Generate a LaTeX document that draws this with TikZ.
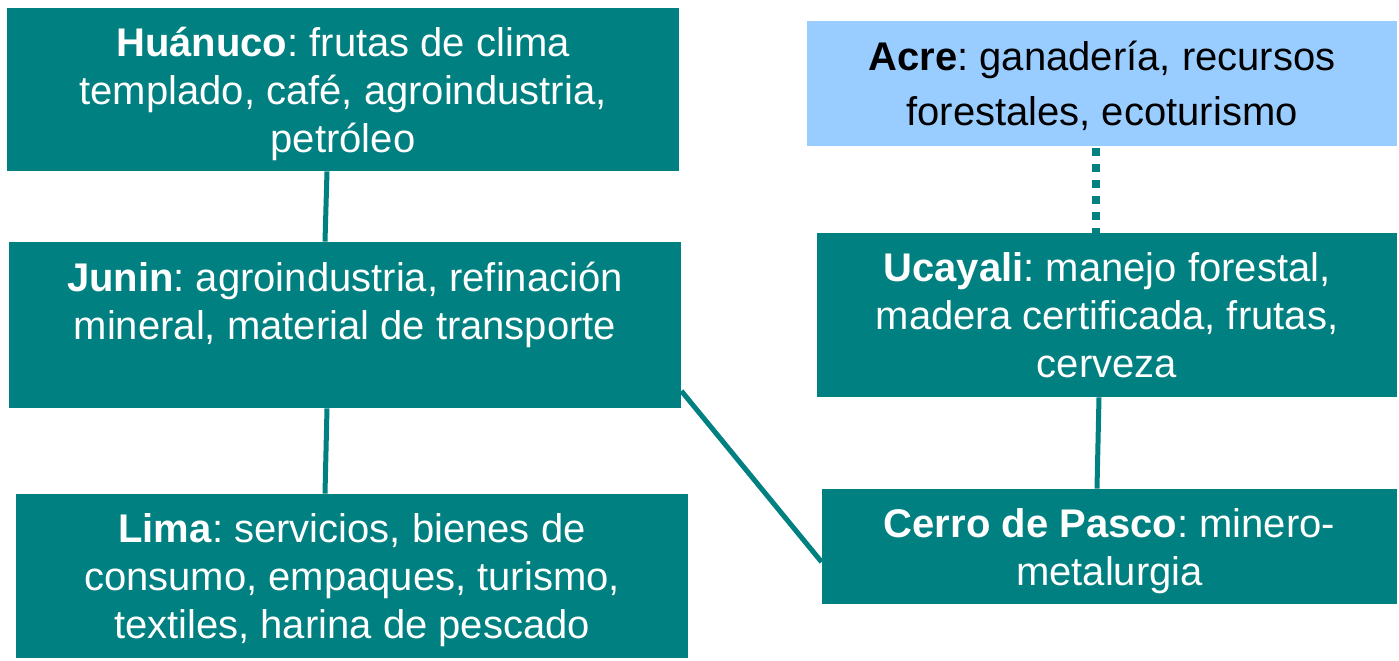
\documentclass[tikz,border=0pt]{standalone}
\usepackage{fontspec}
\setmainfont{Liberation Sans}
\frenchspacing
\definecolor{regionteal}{HTML}{008080}
\definecolor{regionblue}{HTML}{99CCFF}
\tikzset{
  region/.style={fill=regionteal, text=white, align=center, inner sep=0pt,
    font=\fontsize{20}{24}\selectfont, text depth=-0.5pt},
  border/.style={region, fill=regionblue, text=black,
    font=\fontsize{20}{27.5}\selectfont},
  link/.style={draw=regionteal, line width=2.5pt},
}
\begin{document}
\begin{tikzpicture}[x=0.5pt, y=-0.5pt]
    \useasboundingbox (0,0) rectangle (1399,660);

    \node[region, minimum width=336pt, minimum height=81.5pt] (huanuco) at (343,89.5)
        {\textbf{Huánuco}: frutas de clima\\templado, café, agroindustria,\\petróleo};
    \node[region, minimum width=336pt, minimum height=83pt] (junin) at (345,325)
        {\textbf{Junin}: agroindustria, refinación\\mineral, material de transporte\\\mbox{}};
    \node[region, minimum width=336pt, minimum height=82pt] (lima) at (352,576)
        {\textbf{Lima}: servicios, bienes de\\consumo, empaques, turismo,\\textiles, harina de pescado};
    \node[border, minimum width=295pt, minimum height=62.5pt] (acre) at (1102,83.5)
        {\textbf{Acre}: ganadería, recursos\\forestales, ecoturismo};
    \node[region, minimum width=290pt, minimum height=82pt] (ucayali) at (1107,315)
        {\textbf{Ucayali}: manejo forestal,\\madera certificada, frutas,\\cerveza};
    \node[region, minimum width=287.5pt, minimum height=57.5pt] (cerro) at (1109.5,546.5)
        {\textbf{Cerro de Pasco}: minero-\\metalurgia};

    \draw[link] ([xshift=-8pt]huanuco.south) -- ([xshift=-10pt]junin.north);
    \draw[link] ([xshift=-9pt]junin.south) -- ([xshift=-13.5pt]lima.north);
    \draw[link] ([yshift=-33pt]junin.east) -- ([yshift=-7.75pt]cerro.west);
    \draw[link, line width=4pt, dash pattern=on 4pt off 4pt, dash phase=-1pt]
        ([xshift=-3pt]acre.south) -- ([xshift=-5.5pt]ucayali.north);
    \draw[link] ([xshift=-4pt]ucayali.south) -- ([xshift=-6.25pt]cerro.north);
\end{tikzpicture}
\end{document}
